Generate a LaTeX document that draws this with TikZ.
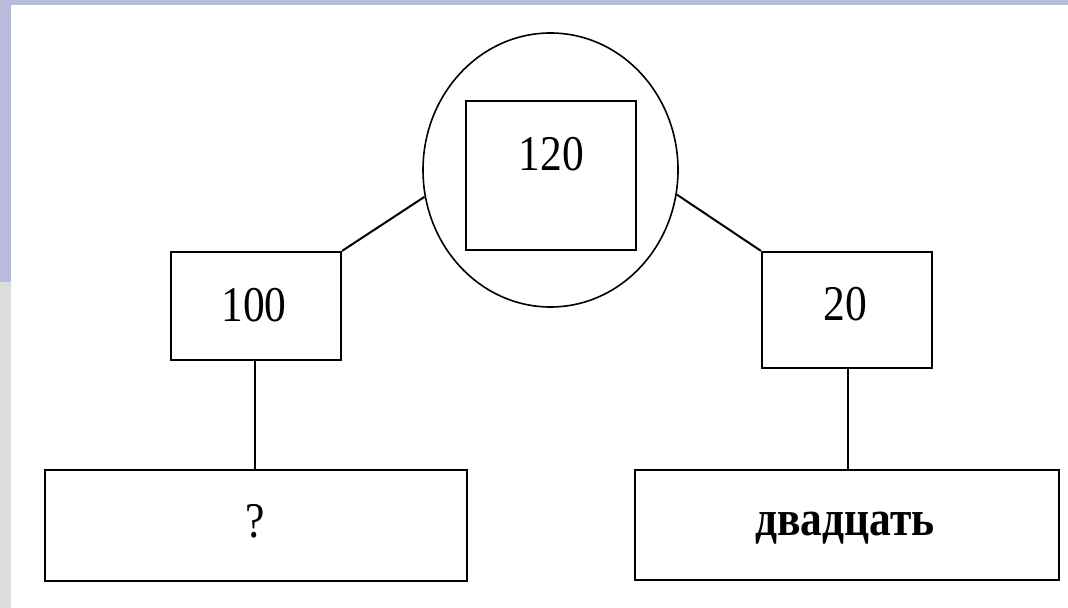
\documentclass[tikz,border=0pt]{standalone}
\usepackage{fontspec}
\setmainfont{Liberation Serif}[FakeStretch=0.87]
\usetikzlibrary{shapes.geometric}
\definecolor{lav}{HTML}{B8BCDA}
\definecolor{gry}{HTML}{DCDCDC}
\begin{document}
\begin{tikzpicture}[x=0.5pt,y=-0.5pt,
  box/.style={draw=black,line width=1.1pt,inner sep=0pt,fill=white},
  txt/.style={font=\fontsize{25}{30}\selectfont,inner sep=0pt,anchor=base},
  link/.style={draw=black,line width=1pt}]
\useasboundingbox (0,0) rectangle (1068,608);
\fill[white] (0,0) rectangle (1068,608);
\fill[lav] (0,0) rectangle (1068,5);
\fill[lav] (0,0) rectangle (11,282);
\fill[gry] (0,282) rectangle (11,608);
% nodes
\node[draw=black,line width=0.8pt,ellipse,inner sep=0pt,minimum width=127.5pt,minimum height=137pt] (ell) at (550.5,170) {};
\node[box,minimum width=85pt,minimum height=74.5pt] (r120) at (551,175.5) {};
\node[txt] (t120) at (551.5,171) {120};
\node[box,minimum width=85pt,minimum height=54pt] (b100) at (256,306) {};
\node[txt] (t100) at (254,322) {100};
\node[box,minimum width=85pt,minimum height=58pt] (b20) at (847,310) {};
\node[txt] (t20) at (845,321) {20};
\node[box,minimum width=211pt,minimum height=55.5pt] (bq) at (256,525.5) {};
\node[txt] (tq) at (255,537) {?};
\node[box,minimum width=212pt,minimum height=55pt] (bd) at (847,525) {};
\node[txt,font=\fontsize{25}{30}\selectfont\bfseries] (td) at (845,535) {двадцать};
% connectors
\draw[link] (b100.north east) -- (ell.192);
\draw[link] (b20.north west) -- (ell.349);
\draw[link] (b100.south -| 255,0) -- (bq.north -| 255,0);
\draw[link] (b20.south -| 848,0) -- (bd.north -| 848,0);
\end{tikzpicture}
\end{document}
